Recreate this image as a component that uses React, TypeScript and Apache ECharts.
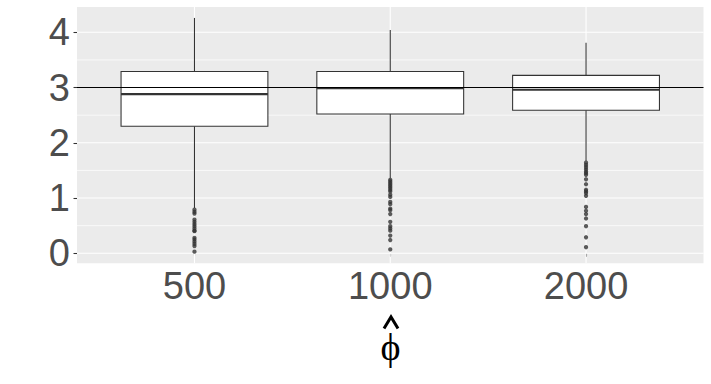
import React, { useEffect, useRef } from 'react';
import * as echarts from 'echarts';

// ---- data ----
const categories = ['500', '1000', '2000'];
const whiskerLow = [0.82, 1.36, 1.67];
const q1 = [2.3, 2.52, 2.59];
const median = [2.88, 2.99, 2.96];
const q3 = [3.29, 3.29, 3.22];
const whiskerHigh = [4.26, 4.04, 3.81];

const outliers500 = [0.79, 0.75, 0.72, 0.61, 0.57, 0.53, 0.49, 0.45, 0.41, 0.4, 0.28, 0.25, 0.21, 0.17, 0.13, 0.03];
const outliers1000 = [1.33, 1.3, 1.27, 1.24, 1.21, 1.18, 1.15, 1.12, 1.06, 1.02, 0.93, 0.89, 0.81, 0.78, 0.71, 0.57, 0.49, 0.45, 0.41, 0.32, 0.24, 0.07];
const outliers2000 = [1.64, 1.6, 1.56, 1.52, 1.48, 1.45, 1.42, 1.34, 1.25, 1.15, 1.12, 1.09, 1.04, 0.84, 0.77, 0.71, 0.63, 0.49, 0.29, 0.11];

const yTicks = [0, 1, 2, 3, 4];
const yMinor = [0.5, 1.5, 2.5, 3.5];
const xTicks = [1, 2, 3];
const referenceValue = 3;
const axisTitle = 'ϕ'; // drawn with a hat accent above it (plotmath hat(phi))

const yMin = -0.181;
const yMax = 4.458;

export default function App() {
  const ref = useRef<HTMLDivElement>(null);

  useEffect(() => {
    if (!ref.current) return;
    const chart = echarts.init(ref.current, undefined, { renderer: 'svg' });

    const boxData = categories.map((_, i) => [i + 1, whiskerLow[i], q1[i], median[i], q3[i], whiskerHigh[i]]);
    const outlierSets = [outliers500, outliers1000, outliers2000];
    const outlierData: number[][] = [];
    outlierSets.forEach((set, i) => set.forEach((v) => outlierData.push([i + 1, v])));

    const gridData: number[][] = [
      ...yMinor.map((v) => [v, 0]),
      ...yTicks.map((v) => [v, 1]),
      ...xTicks.map((v) => [v, 2]),
    ];

    const labelFont = {
      fontSize: 38,
      color: '#4D4D4D',
      fontFamily: 'Liberation Sans, Arial, sans-serif',
    };

    chart.setOption({
      animation: false,
      grid: {
        left: 77,
        right: 7.5,
        top: 7,
        bottom: 120.7,
        show: true,
        backgroundColor: '#EBEBEB',
        borderWidth: 0,
        containLabel: false,
        outerBoundsMode: 'none',
      },
      xAxis: {
        type: 'value',
        min: 0.4,
        max: 3.6,
        axisLine: { show: false },
        splitLine: { show: false },
        axisTick: {
          show: true,
          customValues: xTicks,
          length: 3.5,
          lineStyle: { color: '#333333', width: 1.07 },
        },
        axisLabel: {
          customValues: xTicks,
          formatter: (v: number) => categories[Math.round(v) - 1] ?? '',
          margin: 4,
          ...labelFont,
        },
      },
      yAxis: {
        type: 'value',
        min: yMin,
        max: yMax,
        axisLine: { show: false },
        splitLine: { show: false },
        axisTick: {
          show: true,
          customValues: yTicks,
          length: 3.5,
          lineStyle: { color: '#333333', width: 1.07 },
        },
        axisLabel: {
          customValues: yTicks,
          margin: 7,
          ...labelFont,
        },
      },
      graphic: [
        {
          type: 'polyline',
          shape: { points: [[384, 328.5], [391, 317], [398, 328.5]] },
          style: { stroke: '#000000', lineWidth: 3, fill: null, lineJoin: 'miter' },
          silent: true,
        },
        {
          type: 'text',
          x: 390.5,
          y: 346.5,
          style: {
            text: axisTitle,
            fontSize: 38,
            fontFamily: 'Liberation Serif, DejaVu Serif, serif',
            fill: '#000000',
            textAlign: 'center',
            textVerticalAlign: 'middle',
            verticalAlign: 'middle',
          },
        },
      ],
      series: [
        {
          type: 'custom',
          z: 1,
          silent: true,
          data: gridData,
          encode: { x: 0, y: 1 },
          renderItem: (params: any, api: any) => {
            const cs = params.coordSys;
            const v = api.value(0);
            const kind = api.value(1);
            if (kind === 2) {
              const px = api.coord([v, 1])[0];
              return {
                type: 'line',
                shape: { x1: px, y1: cs.y, x2: px, y2: cs.y + cs.height },
                style: { stroke: '#FFFFFF', lineWidth: 1.1 },
              };
            }
            const py = api.coord([1, v])[1];
            return {
              type: 'line',
              shape: { x1: cs.x, y1: py, x2: cs.x + cs.width, y2: py },
              style: { stroke: '#FFFFFF', lineWidth: kind === 1 ? 1.1 : 0.7 },
            };
          },
        },
        {
          type: 'custom',
          z: 2,
          silent: true,
          data: boxData,
          encode: { x: 0, y: [1, 2, 3, 4, 5] },
          renderItem: (params: any, api: any) => {
            const x = api.value(0);
            const lo = api.coord([x, api.value(1)]);
            const b1 = api.coord([x, api.value(2)]);
            const md = api.coord([x, api.value(3)]);
            const b3 = api.coord([x, api.value(4)]);
            const hi = api.coord([x, api.value(5)]);
            const half = api.size([0.75, 0])[0] / 2;
            const cx = lo[0];
            return {
              type: 'group',
              children: [
                {
                  type: 'line',
                  shape: { x1: cx, y1: lo[1], x2: cx, y2: b1[1] },
                  style: { stroke: '#333333', lineWidth: 1.07 },
                },
                {
                  type: 'line',
                  shape: { x1: cx, y1: b3[1], x2: cx, y2: hi[1] },
                  style: { stroke: '#333333', lineWidth: 1.07 },
                },
                {
                  type: 'rect',
                  shape: { x: cx - half, y: b3[1], width: half * 2, height: b1[1] - b3[1] },
                  style: { fill: '#FFFFFF', stroke: '#333333', lineWidth: 1.07 },
                },
                {
                  type: 'line',
                  shape: { x1: cx - half, y1: md[1], x2: cx + half, y2: md[1] },
                  style: { stroke: '#333333', lineWidth: 2.13 },
                },
              ],
            };
          },
        },
        {
          type: 'scatter',
          z: 3,
          silent: true,
          data: outlierData,
          symbol: 'circle',
          symbolSize: 4.3,
          itemStyle: { color: '#333333' },
          markLine: {
            silent: true,
            symbol: ['none', 'none'],
            label: { show: false },
            lineStyle: { color: '#000000', width: 1.1, type: 'solid' },
            emphasis: { disabled: true },
            data: [{ yAxis: referenceValue }],
          },
        },
      ],
    });

    return () => chart.dispose();
  }, []);

  return (
    <div
      ref={ref}
      style={{ position: 'fixed', left: 0, top: 0, width: 711, height: 384, background: '#FFFFFF' }}
    />
  );
}
